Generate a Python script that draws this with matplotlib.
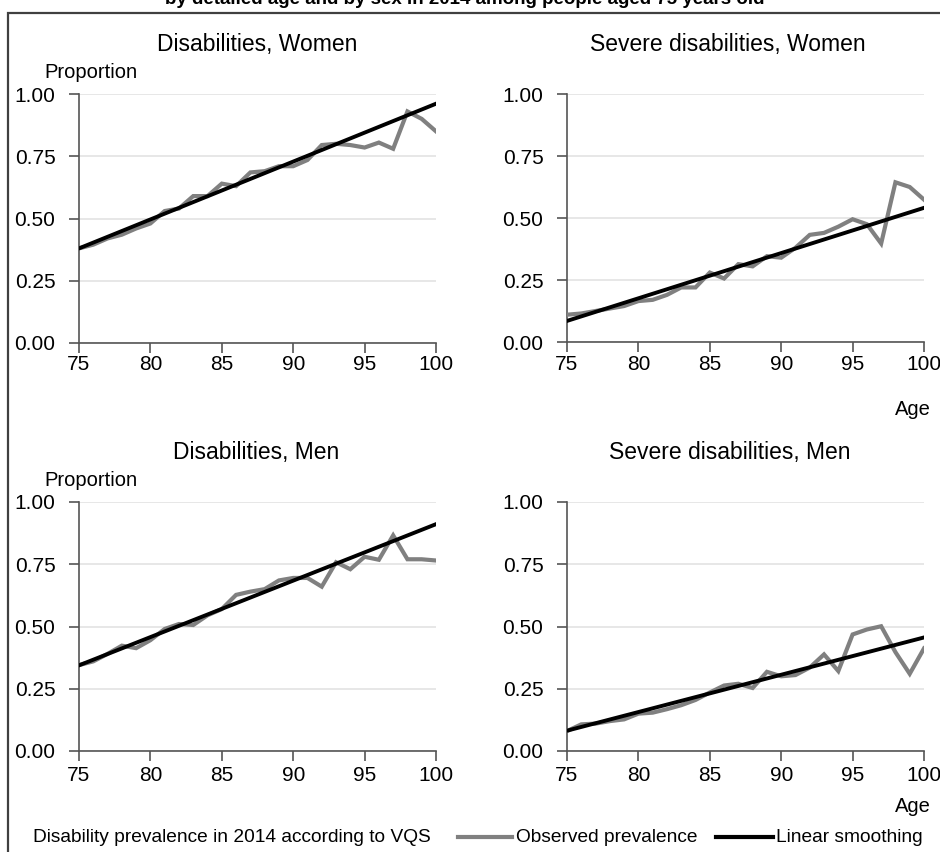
import matplotlib
matplotlib.use("Agg")
import matplotlib.pyplot as plt
from matplotlib.lines import Line2D
from matplotlib.patches import Rectangle

plt.rcParams['font.family'] = ['Liberation Sans Narrow', 'Liberation Sans', 'DejaVu Sans']

ages = list(range(75, 101))

women_dis = [0.38, 0.395, 0.42, 0.435, 0.46, 0.48, 0.53, 0.54, 0.59, 0.59, 0.64, 0.63, 0.685,
             0.69, 0.71, 0.71, 0.735, 0.795, 0.80, 0.795, 0.785, 0.805, 0.78, 0.93, 0.90, 0.85]
women_sev = [0.11, 0.115, 0.125, 0.135, 0.145, 0.165, 0.17, 0.19, 0.22, 0.22, 0.28, 0.256, 0.314,
             0.305, 0.346, 0.34, 0.38, 0.432, 0.44, 0.465, 0.495, 0.475, 0.397, 0.644, 0.625, 0.574]
men_dis = [0.345, 0.36, 0.39, 0.423, 0.413, 0.445, 0.49, 0.51, 0.506, 0.545, 0.57, 0.627, 0.64,
           0.65, 0.685, 0.695, 0.695, 0.66, 0.758, 0.73, 0.78, 0.768, 0.866, 0.77, 0.77, 0.765]
men_sev = [0.08, 0.107, 0.11, 0.12, 0.127, 0.15, 0.154, 0.168, 0.184, 0.205, 0.235, 0.263, 0.27,
           0.253, 0.318, 0.30, 0.305, 0.335, 0.388, 0.321, 0.468, 0.488, 0.501, 0.397, 0.31, 0.412]

# linear smoothing: values at ages 75 and 100
smooth_ages = [75, 100]
women_dis_smooth = [0.38, 0.961]
women_sev_smooth = [0.085, 0.541]
men_dis_smooth = [0.344, 0.911]
men_sev_smooth = [0.0816, 0.456]

titles = ["Disabilities, Women", "Severe disabilities, Women",
          "Disabilities, Men", "Severe disabilities, Men"]
yticks = [0.0, 0.25, 0.5, 0.75, 1.0]
ytick_labels = ["0.00", "0.25", "0.50", "0.75", "1.00"]
xticks = [75, 80, 85, 90, 95, 100]

GRAY = "#808080"
W, H = 940, 852
fig = plt.figure(figsize=(W / 100, H / 100), dpi=100)

def fx(px):
    return px / W

def fy(py):
    return 1 - py / H

# frame
fig.patches.append(Rectangle((fx(8), fy(900)), fx(1000), fy(13) - fy(900), transform=fig.transFigure,
                             fill=False, edgecolor="#404040", linewidth=1.6))

# (left, right, top, bottom, obs, smooth, title, title_x, proportion?, age_y, xpad)
panels = [
    (79, 436, 94, 343, women_dis, women_dis_smooth, titles[0], 257, True, None, 2),
    (567, 924, 94, 342, women_sev, women_sev_smooth, titles[1], 728, False, 410, 2),
    (79, 436, 502, 751, men_dis, men_dis_smooth, titles[2], 256, True, None, 4),
    (567, 924, 502, 751, men_sev, men_sev_smooth, titles[3], 730, False, 807, 4),
]

FS = 15
for (l, r, t, b, obs, sm, title, tx, prop, age_y, xpad) in panels:
    ax = fig.add_axes([fx(l), fy(b), fx(r) - fx(l), fy(t) - fy(b)])
    ax.plot(ages, obs, color=GRAY, linewidth=3, solid_joinstyle='miter', zorder=3)
    ax.plot(smooth_ages, sm, color="black", linewidth=2.8, zorder=4)
    ax.set_xlim(75, 100)
    ax.set_ylim(0, 1)
    ax.set_xticks(xticks)
    ax.set_xticklabels([str(v) for v in xticks])
    ax.set_yticks(yticks)
    ax.set_yticklabels(ytick_labels)
    ax.yaxis.grid(True, color="#e3e3e3", linewidth=1.2)
    ax.set_axisbelow(True)
    for s in ["top", "right"]:
        ax.spines[s].set_visible(False)
    for s in ["left", "bottom"]:
        ax.spines[s].set_color("#555555")
        ax.spines[s].set_linewidth(1.2)
    ax.tick_params(axis='both', direction='out', length=7, width=1.2, color="#555555",
                   labelsize=FS)
    ax.tick_params(axis='y', pad=10)
    ax.tick_params(axis='x', pad=xpad)
    fig.text(fx(tx), fy(t - 49), title, ha='center', va='center', fontsize=16.5)
    if prop:
        fig.text(fx(44), fy(t - 21), "Proportion", ha='left', va='center', fontsize=14.5)
    if age_y is not None:
        fig.text(fx(913), fy(age_y), "Age", ha='center', va='center', fontsize=14.5)

# clipped title at top (cut off by the figure edge, as in the reference)
fig.text(fx(165), fy(4.5), "by detailed age and by sex in 2014 among people aged 75 years old",
         ha='left', va='baseline', fontsize=13.5, fontweight='bold')

# legend row
ly = fy(837)
LFS = 13.8
fig.text(fx(33), ly, "Disability prevalence in 2014 according to VQS", ha='left', va='center', fontsize=LFS)
fig.lines.append(Line2D([fx(458), fx(512)], [ly, ly], transform=fig.transFigure, color=GRAY, linewidth=3))
fig.text(fx(516), ly, "Observed prevalence", ha='left', va='center', fontsize=LFS)
fig.lines.append(Line2D([fx(716), fx(773)], [ly, ly], transform=fig.transFigure, color="black", linewidth=3))
fig.text(fx(776), ly, "Linear smoothing", ha='left', va='center', fontsize=LFS)

fig.savefig("out.png", dpi=100)
